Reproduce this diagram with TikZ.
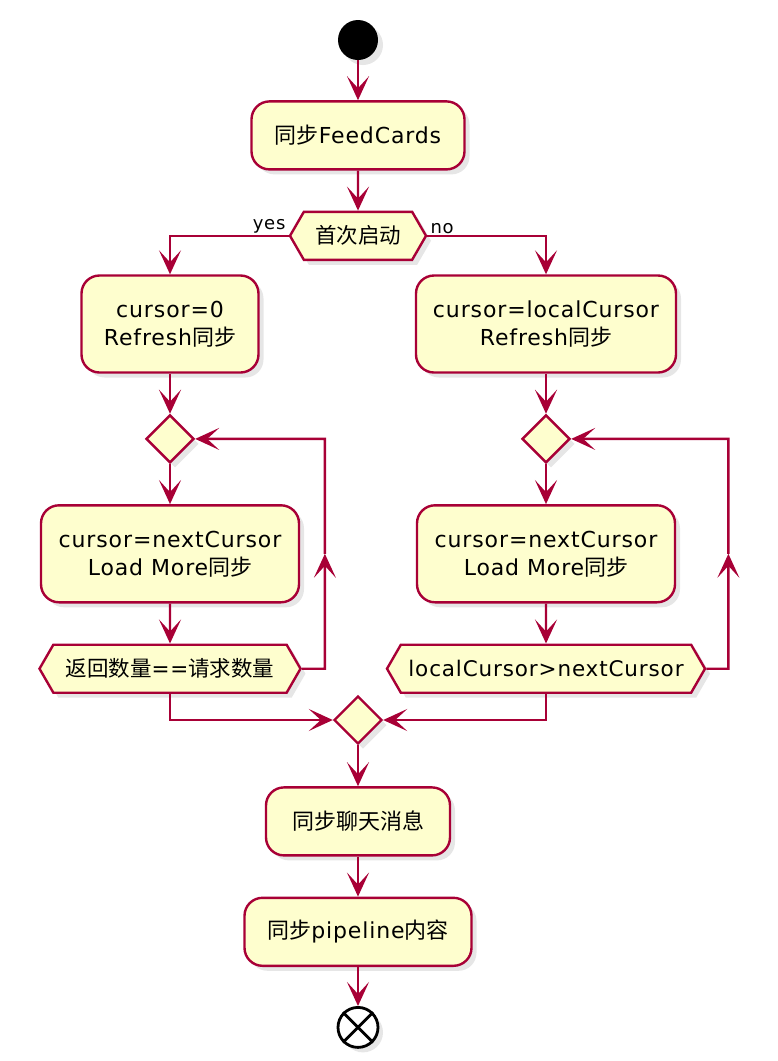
\documentclass[tikz,border=0pt]{standalone}
\usepackage{fontspec}
\setmainfont{DejaVu Sans}[LetterSpace=4]
\newfontfamily\cjkfont{Noto Sans CJK SC}
\newcommand{\zhtext}[1]{{\cjkfont #1}}
\usetikzlibrary{shapes.geometric, shapes.symbols, arrows.meta, positioning, calc, shadows}
\definecolor{umlred}{HTML}{A80036}
\definecolor{umlfill}{HTML}{FEFECE}
\tikzset{
	umlshadow/.style={drop shadow={shadow xshift=5pt, shadow yshift=-5pt, opacity=0.2}},
	actbox/.style={rectangle, rounded corners=18pt, draw=umlred, fill=umlfill, line width=2.4pt,
		align=center, minimum height=68pt, inner sep=0pt, font=\fontsize{22}{28}\selectfont, umlshadow},
	condbox/.style={signal, signal to=west and east, signal pointer angle=120, draw=umlred, fill=umlfill,
		line width=2.4pt, minimum height=48pt, inner sep=0pt, font=\fontsize{21.5}{24}\selectfont, umlshadow},
	mergebox/.style={diamond, draw=umlred, fill=umlfill, line width=2.4pt,
		minimum width=48pt, minimum height=48pt, inner sep=0pt, umlshadow},
	startdot/.style={circle, fill=black, minimum size=40pt, inner sep=0pt, umlshadow},
	stopdot/.style={circle, draw=black, fill=white, line width=2.8pt, minimum size=40pt, inner sep=0pt, umlshadow},
	arrow/.style={-{Stealth[length=24pt, width=22pt, inset=12pt]}, draw=umlred, line width=2.4pt},
	branchlabel/.style={font=\fontsize{18}{20}\selectfont, inner sep=1pt},
}
\begin{document}
\begin{tikzpicture}[x=1pt, y=-1pt, node distance=40pt]
	\useasboundingbox (0,0) rectangle (778,1061);
	% start
	\node[startdot] (start) at (358,40) {};
	\node[actbox, minimum width=213pt, below=of start] (feed) {\zhtext{同步}FeedCards};
	\node[condbox, minimum width=136pt, below=of feed] (firstrun) {\zhtext{首次启动}};
	\draw[arrow] (start) -- (feed);
	\draw[arrow] (feed) -- (firstrun);
	% yes branch
	\node[actbox, minimum width=177pt, minimum height=97pt] (resetL) at (170,324) {cursor=0\\Refresh\zhtext{同步}};
	\node[mergebox, below=of resetL] (loopL) {};
	\node[actbox, minimum width=258pt, minimum height=97pt, below=of loopL] (loadL) {cursor=nextCursor\\Load More\zhtext{同步}};
	\node[condbox, minimum width=261pt, below=of loadL] (checkL) {\zhtext{返回数量}==\zhtext{请求数量}};
	\draw[arrow] (firstrun.west) -| (resetL.north);
	\node[branchlabel, anchor=south east] (yeslbl) at ($(firstrun.west)+(-2,-1)$) {yes};
	\draw[arrow] (resetL) -- (loopL);
	\draw[arrow] (loopL) -- (loadL);
	\draw[arrow] (loadL) -- (checkL);
	\coordinate (loopLa) at ($(checkL.east)+(23,0)$);
	\coordinate (loopLb) at (loopLa |- loopL.east);
	\coordinate (loopLm) at ($(loopLa)!0.5!(loopLb)$);
	\draw[arrow] (checkL.east) -- (loopLa) -- (loopLm);
	\draw[arrow] (loopLm) -- (loopLb) -- (loopL.east);
	% no branch
	\node[actbox, minimum width=260pt, minimum height=97pt] (resetR) at (546,324) {cursor=localCursor\\Refresh\zhtext{同步}};
	\node[mergebox, below=of resetR] (loopR) {};
	\node[actbox, minimum width=258pt, minimum height=97pt, below=of loopR] (loadR) {cursor=nextCursor\\Load More\zhtext{同步}};
	\node[condbox, minimum width=318pt, below=of loadR] (checkR) {localCursor>nextCursor};
	\draw[arrow] (firstrun.east) -| (resetR.north);
	\node[branchlabel, anchor=south west] (nolbl) at ($(firstrun.east)+(2,-1)$) {no};
	\draw[arrow] (resetR) -- (loopR);
	\draw[arrow] (loopR) -- (loadR);
	\draw[arrow] (loadR) -- (checkR);
	\coordinate (loopRa) at ($(checkR.east)+(22,0)$);
	\coordinate (loopRb) at (loopRa |- loopR.east);
	\coordinate (loopRm) at ($(loopRa)!0.5!(loopRb)$);
	\draw[arrow] (checkR.east) -- (loopRa) -- (loopRm);
	\draw[arrow] (loopRm) -- (loopRb) -- (loopR.east);
	% merge and finish
	\node[mergebox] (merge) at (358,720) {};
	\draw[arrow] (checkL.south) |- (merge.west);
	\draw[arrow] (checkR.south) |- (merge.east);
	\node[actbox, minimum width=184pt, below=41pt of merge] (chat) {\zhtext{同步聊天消息}};
	\node[actbox, minimum width=227pt, below=of chat] (pipe) {\zhtext{同步}pipeline\zhtext{内容}};
	\node[stopdot, below=39pt of pipe] (stop) {};
	\draw[line width=2.8pt] (stop.north west) -- (stop.south east) (stop.north east) -- (stop.south west);
	\draw[arrow] (merge) -- (chat);
	\draw[arrow] (chat) -- (pipe);
	\draw[arrow] (pipe) -- (stop);
\end{tikzpicture}
\end{document}
